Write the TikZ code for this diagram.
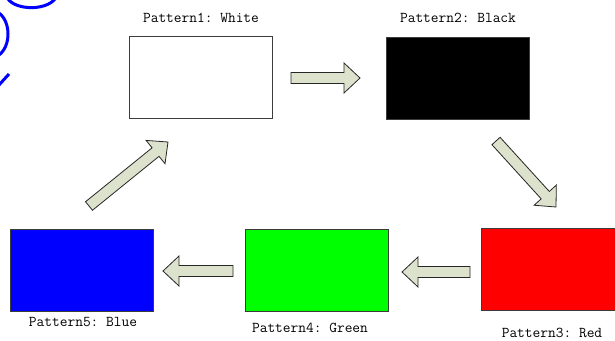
\documentclass[tikz,border=0pt]{standalone}
\usetikzlibrary{calc}
\definecolor{arrowfill}{RGB}{221,226,204}
\definecolor{boxline}{RGB}{60,60,60}
\frenchspacing
\tikzset{
  patbox/.style={draw=boxline, line width=0.9pt, minimum width=143pt, minimum height=82pt, inner sep=0pt, outer sep=0pt},
  patlabel/.style={font=\ttfamily\fontsize{15}{17}\selectfont, text=black, inner sep=0pt},
  barrow/.style={draw=black!85, line width=0.8pt, fill=arrowfill, line join=miter},
  bluestroke/.style={draw=blue, line width=3pt}
}
\newcommand\blkarrow[2]{%
  \coordinate (hb) at ($(#2)!16pt!(#1)$);
  \draw[barrow] ($(#1)!5.5pt!90:(#2)$) -- ($(hb)!5.5pt!-90:(#1)$) -- ($(hb)!15pt!-90:(#1)$) -- (#2)
     -- ($(hb)!15pt!90:(#1)$) -- ($(hb)!5.5pt!90:(#1)$) -- ($(#1)!5.5pt!-90:(#2)$) -- cycle;}
\begin{document}
\begin{tikzpicture}[x=1pt,y=-1pt]
\useasboundingbox (0,0) rectangle (615,340);
\clip (0,0) rectangle (615,340);
% boxes
\node[patbox, fill=white] (white) at (201,77.5) {};
\node[patbox, fill=black] (black) at (458,78) {};
\node[patbox, fill={rgb,255:red,255;green,0;blue,0}, minimum width=144pt] (red) at (553,269.5) {};
\node[patbox, fill={rgb,255:red,0;green,255;blue,0}] (green) at (316.5,270) {};
\node[patbox, fill={rgb,255:red,0;green,0;blue,255}] (blue) at (81.5,270) {};
% labels
\node[patlabel] (l1) at (201,17.5) {Pattern1: White};
\node[patlabel] (l2) at (458,17.5) {Pattern2: Black};
\node[patlabel] (l3) at (552,332.5) {Pattern3: Red};
\node[patlabel] (l4) at (310,327.5) {Pattern4: Green};
\node[patlabel] (l5) at (83,322.5) {Pattern5: Blue};
% arrow endpoints
\coordinate (a1s) at (291,78);  \coordinate (a1e) at (360,78);
\coordinate (a2s) at (496,141); \coordinate (a2e) at (556,207);
\coordinate (a3s) at (470,272); \coordinate (a3e) at (402,272);
\coordinate (a4s) at (233,271); \coordinate (a4e) at (163,271);
\coordinate (a5s) at (89,206);  \coordinate (a5e) at (168,142);
\blkarrow{a1s}{a1e}
\blkarrow{a2s}{a2e}
\blkarrow{a3s}{a3e}
\blkarrow{a4s}{a4e}
\blkarrow{a5s}{a5e}
% blue strokes top-left
\draw[bluestroke] (8,-1) .. controls (16,10) and (45,11) .. (55,-1);
\draw[bluestroke] (-1,13) .. controls (11,22) and (11,46) .. (-1,55);
\draw[bluestroke] (-1,85) -- (9,74);
\end{tikzpicture}
\end{document}
